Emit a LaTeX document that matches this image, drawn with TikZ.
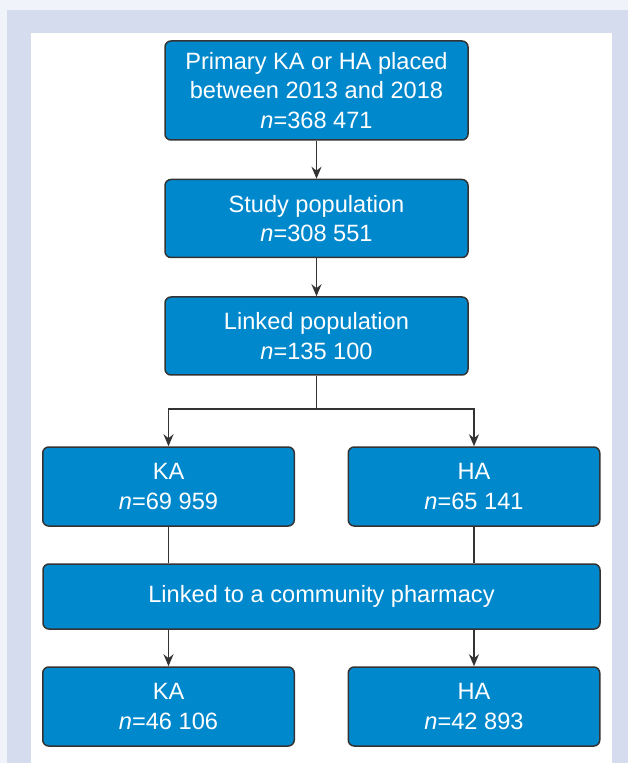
\documentclass[tikz,border=0pt]{standalone}
\usepackage{fontspec}
\setmainfont{Liberation Sans}
\usepackage{xcolor}
\definecolor{boxblue}{RGB}{0,136,204}
\definecolor{framebg}{RGB}{213,220,238}
\definecolor{pagebg}{RGB}{240,243,249}
\definecolor{edge}{RGB}{51,51,51}
\usetikzlibrary{arrows.meta,positioning}

\begin{document}
\begin{tikzpicture}[
  x=0.5pt,y=-0.5pt,
  node distance=19pt,
  fbox/.style={rectangle,draw=edge,line width=0.75pt,rounded corners=3pt,fill=boxblue,text=white,align=center,inner sep=2pt,font=\fontsize{11.8}{14.75}\selectfont},
  wbox/.style={fbox,minimum width=151.5pt,minimum height=39pt},
  sbox/.style={fbox,minimum width=125.75pt,minimum height=39.5pt},
  arrow/.style={-{Stealth[length=6pt,width=5pt]},line width=0.75pt,edge},
  link/.style={line width=0.75pt,edge}
]
  \useasboundingbox (0,0) rectangle (628,763);
  \fill[pagebg] (0,0) rectangle (628,763);
  \fill[framebg] (7,10) rectangle (628,763);
  \fill[white] (31,33) rectangle (612,763);

  \node[wbox,minimum height=49.5pt] (primary) at (316.5,90.5) {Primary KA or HA placed\\between 2013 and 2018\\\textit{n}=368 471};
  \node[wbox,below=of primary] (study) {Study population\\\textit{n}=308 551};
  \node[wbox,below=of study] (linked) {Linked population\\\textit{n}=135 100};

  \node[sbox] (ka) at (168.5,486.5) {KA\\\textit{n}=69 959};
  \node[sbox] (ha) at (474,486.5) {HA\\\textit{n}=65 141};
  \node[fbox,minimum width=278.5pt,minimum height=32.5pt] (pharm) at (321.5,596.5) {Linked to a community pharmacy};
  \node[sbox] (kapharm) at (168.5,706.5) {KA\\\textit{n}=46 106};
  \node[sbox] (hapharm) at (474,706.5) {HA\\\textit{n}=42 893};

  \coordinate (split) at (316.5,409);

  \draw[arrow] (primary) -- (study);
  \draw[arrow] (study) -- (linked);
  \draw[link] (linked) -- (split);
  \draw[arrow] (split) -| (ka);
  \draw[arrow] (split) -| (ha);

  \draw[link] (ka) -- (ka |- pharm.north);
  \draw[link] (ha) -- (ha |- pharm.north);
  \draw[arrow] (kapharm |- pharm.south) -- (kapharm);
  \draw[arrow] (hapharm |- pharm.south) -- (hapharm);
\end{tikzpicture}
\end{document}
